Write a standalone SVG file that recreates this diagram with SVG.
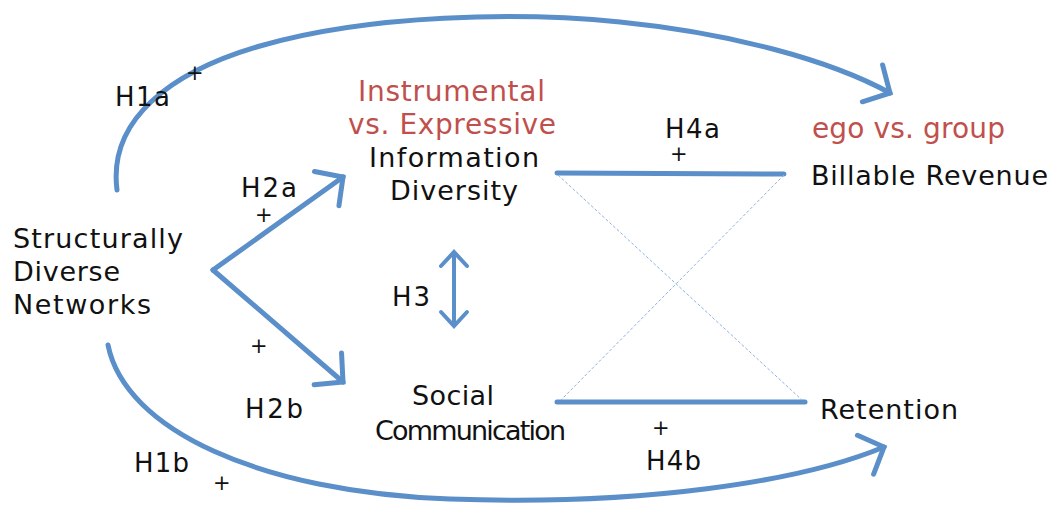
<svg xmlns="http://www.w3.org/2000/svg" width="1053" height="516" viewBox="0 0 1053 516">
<style>
text{font-family:"DejaVu Sans","Liberation Sans",sans-serif;fill:#111}
.n{font-size:27px}
.h{font-size:26px}
.p{font-size:21px}
.r{font-size:28px;fill:#c0504d}
.c{fill:none;stroke:#5b8fc9;stroke-width:5;stroke-linecap:round}
.t{fill:none;stroke:#5b8fc9;stroke-width:4}
.d{fill:none;stroke:#8fb3dc;stroke-width:1;stroke-dasharray:3 2}
</style>
<defs>
<marker id="ah" viewBox="-10 -20 40 60" refX="17" refY="10" markerWidth="40" markerHeight="60" markerUnits="userSpaceOnUse" orient="auto" overflow="visible">
<path d="M-3,-11 L17,10 L-3,31" fill="none" stroke="#5b8fc9" stroke-width="5" stroke-linecap="round" stroke-linejoin="miter"/>
</marker>
<marker id="as" viewBox="-10 -20 40 60" refX="17" refY="10" markerWidth="40" markerHeight="60" markerUnits="userSpaceOnUse" orient="auto-start-reverse" overflow="visible">
<path d="M3,-3 L17,10 L3,23" fill="none" stroke="#5b8fc9" stroke-width="4" stroke-linecap="round"/>
</marker>
</defs>
<g id="connectors">
<path class="c" d="M117,190 C108,120 170,72 260,46 C370,14 520,12 620,22 C730,33 830,60 890,93" marker-end="url(#ah)"/>
<path class="c" d="M108,345 C125,430 260,492 450,499 C640,506 800,482 884,447" marker-end="url(#ah)"/>
<path class="c" d="M213,270 L343,177" marker-end="url(#ah)"/>
<path class="c" d="M213,270 L343,382" marker-end="url(#ah)"/>
<path class="t" d="M454,252 L454,326" marker-start="url(#as)" marker-end="url(#as)"/>
<path class="c" d="M557,173 L784,174"/>
<path class="c" d="M557,402 L805,402"/>
<path class="d" d="M558,175 L802,400"/>
<path class="d" d="M784,175 L561,400"/>
</g>
<g id="labels">
<text class="h" x="115" y="106" textLength="55">H1a</text>
<text class="p" x="186" y="80">+</text>
<text class="h" x="241" y="197" textLength="56">H2a</text>
<text class="p" x="255" y="222">+</text>
<text class="p" x="250" y="353">+</text>
<text class="h" x="245" y="418" textLength="58">H2b</text>
<text class="h" x="392" y="306" textLength="38">H3</text>
<text class="h" x="665" y="138" textLength="55">H4a</text>
<text class="p" x="670" y="161">+</text>
<text class="p" x="652" y="435">+</text>
<text class="h" x="646" y="470" textLength="55">H4b</text>
<text class="h" x="134" y="472" textLength="55">H1b</text>
<text class="p" x="213" y="490">+</text>
</g>
<g id="structurally-diverse-networks">
<text class="n" x="13" y="248" textLength="170">Structurally</text>
<text class="n" x="13" y="281" textLength="107">Diverse</text>
<text class="n" x="13" y="314" textLength="138">Networks</text>
</g>
<g id="information-diversity">
<text class="r" x="358" y="101" textLength="187">Instrumental</text>
<text class="r" x="348" y="134" textLength="208">vs. Expressive</text>
<text class="n" x="369" y="167" textLength="170">Information</text>
<text class="n" x="390" y="200" textLength="128">Diversity</text>
</g>
<g id="social-communication">
<text class="n" x="412" y="405" textLength="82">Social</text>
<text class="n" x="375" y="440" textLength="191">Communication</text>
</g>
<g id="billable-revenue">
<text class="r" x="812" y="138" textLength="193">ego vs. group</text>
<text class="n" x="811" y="185" textLength="237">Billable Revenue</text>
</g>
<g id="retention">
<text class="n" x="820" y="419" textLength="138">Retention</text>
</g>
</svg>
